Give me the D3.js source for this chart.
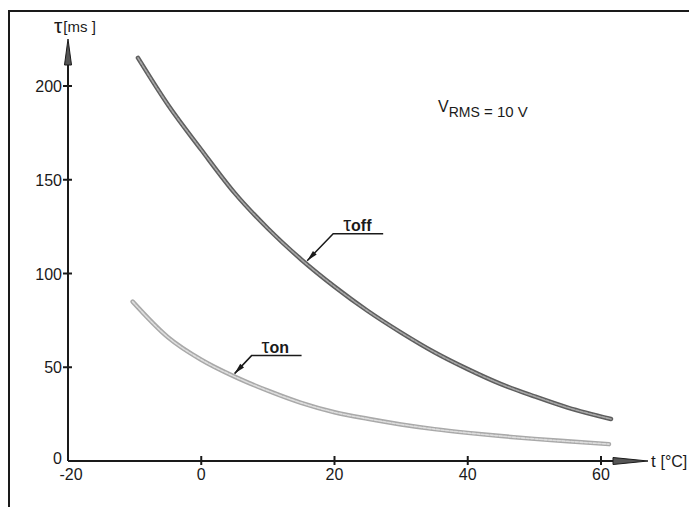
<!DOCTYPE html>
<html><head><meta charset="utf-8">
<script src="https://cdn.jsdelivr.net/npm/d3@7"></script>
<style>body{margin:0;background:#fff}svg{display:block}</style>
</head><body><svg id="c" width="689" height="507"></svg>
<script>
// ---- data ----
const xTicks = [-20, 0, 20, 40, 60];
const yTicks = [0, 50, 100, 150, 200];
const tOff   = [-9.5, -5, 0, 5, 10, 15, 20, 25, 30, 35, 40, 45, 50, 55, 61.5];
const tauOff = [215, 190, 166, 143, 124, 107.5, 93, 80, 68.5, 58, 49, 41, 34.5, 28.5, 22.4];
const tOn    = [-10.3, -5, 0, 5, 10, 15, 20, 25, 30, 35, 40, 45, 50, 55, 61.2];
const tauOn  = [85, 66, 54, 45, 37.5, 31, 26, 22.5, 19.5, 17, 15, 13.3, 11.8, 10.5, 9];
const labelNames = ["off", "on"];
const labelT     = [15.6, 4.7];

// ---- layout ----
const leader = {off: {dx: 28, dy: -29}, on: {dx: 19, dy: -20}};

const svg = d3.select("#c");
const font = "'Liberation Sans',Arial,sans-serif";
const ink = "#1a1a1a";

const x = d3.scaleLinear().domain([-20, 60]).range([68, 601]);
const y = d3.scaleLinear().domain([0, 200]).range([461, 86]);

// frame
svg.append("path").attr("d", "M9,507V11H689").attr("fill", "none")
  .attr("stroke", ink).attr("stroke-width", 2);

// axes lines
const yTop = 39, xEnd = 648;
svg.append("line").attr("x1", x(-20)).attr("x2", xEnd - 20).attr("y1", y(0)).attr("y2", y(0))
  .attr("stroke", ink).attr("stroke-width", 2);
svg.append("line").attr("x1", x(-20)).attr("x2", x(-20)).attr("y1", y(0)).attr("y2", yTop + 20)
  .attr("stroke", ink).attr("stroke-width", 2);
// arrow heads
svg.append("path").attr("d", `M${x(-20)},${yTop}L${x(-20)-3.5},${yTop+26}L${x(-20)+3.5},${yTop+26}Z`)
  .attr("fill", "#555").attr("stroke", ink).attr("stroke-width", 1);
svg.append("path").attr("d", `M${xEnd},${y(0)}L${xEnd-35},${y(0)-3.5}L${xEnd-35},${y(0)+3.5}Z`)
  .attr("fill", "#555").attr("stroke", ink).attr("stroke-width", 1);

// ticks
svg.append("g").selectAll("line").data(xTicks.filter(d => d !== -20)).join("line")
  .attr("x1", d => x(d)).attr("x2", d => x(d)).attr("y1", y(0) - 5).attr("y2", y(0) + 4)
  .attr("stroke", ink).attr("stroke-width", 2);
svg.append("g").selectAll("line").data(yTicks.filter(d => d !== 0)).join("line")
  .attr("x1", x(-20) - 5).attr("x2", x(-20) + 4).attr("y1", d => y(d)).attr("y2", d => y(d))
  .attr("stroke", ink).attr("stroke-width", 2);

// tick labels
svg.append("g").selectAll("text").data(xTicks).join("text")
  .attr("x", d => x(d) + (d === -20 ? 3 : 0)).attr("y", y(0) + 19)
  .attr("text-anchor", "middle").attr("font-family", font).attr("font-size", 16).attr("fill", ink)
  .text(d => d < 0 ? "-" + Math.abs(d) : d);
svg.append("g").selectAll("text").data(yTicks).join("text")
  .attr("x", x(-20) - 6).attr("y", d => y(d) + 6 - (d === 0 ? 3 : 0))
  .attr("text-anchor", "end").attr("font-family", font).attr("font-size", 16).attr("fill", ink)
  .text(d => d);

// axis titles
const yt = svg.append("text").attr("x", 54).attr("y", 33).attr("font-family", font).attr("fill", ink);
yt.append("tspan").attr("font-size", 21).text("τ");
yt.append("tspan").attr("font-size", 15).attr("dx", 1).attr("dy", -1).text("[ms ]");
const xt = svg.append("text").attr("x", 651).attr("y", y(0) + 6).attr("font-family", font).attr("fill", ink);
xt.append("tspan").attr("font-size", 17).text("t ");
xt.append("tspan").attr("font-size", 16).text("[°C]");

// V_RMS note
const vt = svg.append("text").attr("x", 438).attr("y", 112).attr("font-family", font).attr("fill", ink);
vt.append("tspan").attr("font-size", 16).text("V");
vt.append("tspan").attr("font-size", 14).attr("dy", 5).text("RMS");
vt.append("tspan").attr("font-size", 15).text(" = 10 V");

// curves
const line = d3.line().x(d => x(d[0])).y(d => y(d[1])).curve(d3.curveMonotoneX);
const offPts = d3.zip(tOff, tauOff), onPts = d3.zip(tOn, tauOn);
function drawCurve(pts, outer, inner) {
  svg.append("path").attr("d", line(pts)).attr("fill", "none").attr("stroke", outer)
    .attr("stroke-width", 4.5).attr("stroke-linecap", "round");
  svg.append("path").attr("d", line(pts)).attr("fill", "none").attr("stroke", inner)
    .attr("stroke-width", 1.6).attr("stroke-linecap", "round").attr("stroke-dasharray", "3,1.5");
}
drawCurve(onPts, "#a9a9a9", "#dedede");
drawCurve(offPts, "#5e5e5e", "#a8a8a8");

// labels with leader lines
const interp = (ts, vs, t) => {
  const i = Math.max(1, d3.bisectLeft(ts, t));
  const f = (t - ts[i-1]) / (ts[i] - ts[i-1]);
  return vs[i-1] + f * (vs[i] - vs[i-1]);
};
labelNames.forEach((name, k) => {
  const ts = name === "off" ? tOff : tOn, vs = name === "off" ? tauOff : tauOn;
  const lt = labelT[k];
  const px = x(lt), py = y(interp(ts, vs, lt));
  const kx = px + leader[name].dx, ky = py + leader[name].dy;
  svg.append("path").attr("d", `M${px+2},${py-2}L${kx},${ky}H${kx+50}`).attr("fill", "none")
    .attr("stroke", ink).attr("stroke-width", 1.5);
  const ang = Math.atan2(py - ky, px - kx);
  const hx = px + 2, hy = py - 2, L = 11, W = 2.6;
  const bx = hx - L * Math.cos(ang), by = hy - L * Math.sin(ang);
  svg.append("path").attr("d", `M${hx},${hy}L${bx - W*Math.sin(ang)},${by + W*Math.cos(ang)}L${bx + W*Math.sin(ang)},${by - W*Math.cos(ang)}Z`)
    .attr("fill", ink);
  const t = svg.append("text").attr("x", kx + 10).attr("y", ky - 3).attr("font-family", font).attr("fill", ink);
  t.append("tspan").attr("font-size", 20).text("τ");
  t.append("tspan").attr("font-size", 16).attr("font-weight", "bold").text(name);
});
</script></body></html>
